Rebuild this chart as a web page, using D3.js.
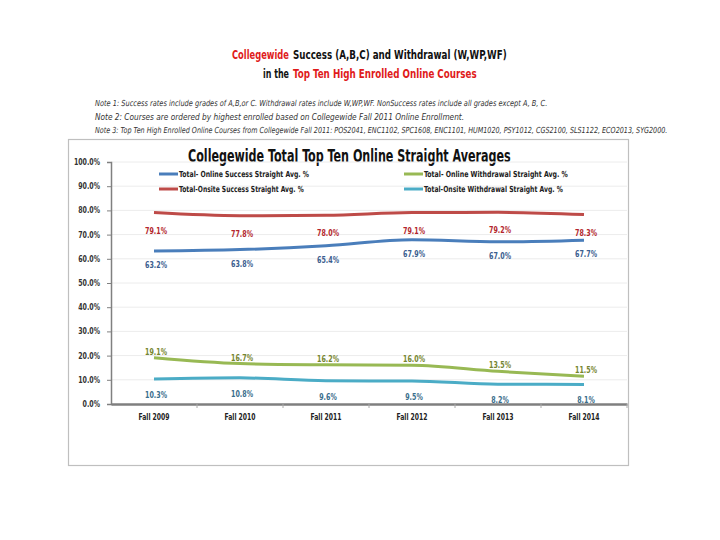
<!DOCTYPE html>
<html><head><meta charset="utf-8">
<script src="https://cdn.jsdelivr.net/npm/d3@7"></script>
<style>
body{margin:0;background:#fff;}
svg{display:block;}
</style></head>
<body>
<svg id="c" width="720" height="540"></svg>
<script>
const categories = ["Fall 2009","Fall 2010","Fall 2011","Fall 2012","Fall 2013","Fall 2014"];
const onlineSuccess = [63.2, 63.8, 65.4, 67.9, 67.0, 67.7];
const onsiteSuccess = [79.1, 77.8, 78.0, 79.1, 79.2, 78.3];
const onlineWithdrawal = [19.1, 16.7, 16.2, 16.0, 13.5, 11.5];
const onsiteWithdrawal = [10.3, 10.8, 9.6, 9.5, 8.2, 8.1];
const yTicks = [0,10,20,30,40,50,60,70,80,90,100];
const seriesNames = ["Total- Online Success Straight Avg. %","Total-Onsite Success Straight Avg. %","Total- Online Withdrawal Straight Avg. %","Total-Onsite Withdrawal Straight Avg. %"];

const series = [
  {name: seriesNames[0], values: onlineSuccess, color:"#4a7ebb", label:"#3b5e8f", dy:17},
  {name: seriesNames[1], values: onsiteSuccess, color:"#be4b48", label:"#b3262c", dy:21},
  {name: seriesNames[2], values: onlineWithdrawal, color:"#98b954", label:"#76852f", dy:-3},
  {name: seriesNames[3], values: onsiteWithdrawal, color:"#4bacc6", label:"#3a6e8c", dy:19}
];

const svg = d3.select("#c");
const font = "'DejaVu Sans Condensed','Liberation Sans',sans-serif";

// draw a text at its natural size, then squeeze horizontally to width w
function squeezed(parent, str, x, y, w, opts){
  const t = parent.append("text").attr("x",0).attr("y",0)
    .attr("font-family",font).attr("font-size",opts.size)
    .attr("font-weight",opts.weight||"normal").attr("font-style",opts.style||"normal")
    .attr("fill",opts.fill||"#111").attr("text-anchor",opts.anchor||"start").text(str);
  const nat = t.node().getComputedTextLength();
  const sx = nat>0 ? w/nat : 1;
  t.attr("transform",`translate(${x},${y}) scale(${sx},1)`);
  return t;
}

// Header (pieces)
const headerParts = [
  {t:"Collegewide", x:232, y:59, w:57, c:"#e01b1b"},
  {t:"Success (A,B,C) and Withdrawal (W,WP,WF)", x:293, y:59, w:214, c:"#111"},
  {t:"in the", x:263, y:78, w:26, c:"#111"},
  {t:"Top Ten High Enrolled Online Courses", x:293, y:78, w:184, c:"#e01b1b"}
];
headerParts.forEach(p=>squeezed(svg, p.t, p.x, p.y, p.w, {size:12.5, weight:"bold", fill:p.c}));

const notes = [
  "Note 1: Success rates include grades of A,B,or C. Withdrawal rates include W,WP,WF. NonSuccess rates include all grades except A, B, C.",
  "Note 2: Courses are ordered by highest enrolled based on Collegewide Fall 2011 Online Enrollment.",
  "Note 3: Top Ten High Enrolled Online Courses from Collegewide Fall 2011: POS2041, ENC1102, SPC1608, ENC1101, HUM1020, PSY1012, CGS2100, SLS1122, ECO2013, SYG2000."
];
const noteW = [453, 369, 573];
notes.forEach((n,i)=>squeezed(svg, n, 95, 106+i*13.5, noteW[i], {size:8.3, style:"italic", fill:"#333"}));

// Frame
svg.append("rect").attr("x",68.5).attr("y",139.5).attr("width",560).attr("height",326)
  .attr("fill","#fff").attr("stroke","#bfbfbf").attr("stroke-width",1.2);

squeezed(svg, "Collegewide Total Top Ten Online Straight Averages", 188, 162, 323, {size:17, weight:"bold", fill:"#111"});

const x = d3.scaleBand().domain(categories).range([111,627]);
const y = d3.scaleLinear().domain([0,100]).range([404,162]);
const cx = d => x(d) + x.bandwidth()/2;

// gridlines
svg.append("g").selectAll("line").data(yTicks.filter(t=>t>0)).enter().append("line")
  .attr("x1",111).attr("x2",627).attr("y1",d=>y(d)).attr("y2",d=>y(d))
  .attr("stroke","#ececec").attr("stroke-width",1);

// y axis
const pct = d=>d3.format(".1f")(d)+"%";
const ya = svg.append("g").attr("transform","translate(111,0)")
  .call(d3.axisLeft(y).tickValues(yTicks).tickSize(4).tickFormat(pct));
ya.select(".domain").attr("stroke","#808080").attr("stroke-width",1.5);
ya.selectAll(".tick line").attr("stroke","#808080");
ya.selectAll("text").attr("font-family",font).attr("font-weight","bold").attr("font-size",8).attr("fill","#333").attr("x",-11)
  .attr("textLength",d=>pct(d).length*4.35).attr("lengthAdjust","spacingAndGlyphs");

// x axis
const xa = svg.append("g").attr("transform","translate(0,404)")
  .call(d3.axisBottom(x).tickSize(0).tickPadding(10));
xa.select(".domain").attr("stroke","#7f7f7f").attr("stroke-width",2.5);
xa.selectAll("text").attr("font-family",font).attr("font-weight","bold").attr("font-size",9).attr("fill","#222")
  .attr("textLength",31).attr("lengthAdjust","spacingAndGlyphs");
// category boundary tick marks
svg.append("g").selectAll("line").data(categories).enter().append("line")
  .attr("x1",d=>x(d)+x.bandwidth()).attr("x2",d=>x(d)+x.bandwidth())
  .attr("y1",404).attr("y2",408).attr("stroke","#aaa");

// lines
const line = d3.line().x((d,i)=>cx(categories[i])).y(d=>y(d)).curve(d3.curveMonotoneX);
series.forEach(s=>{
  svg.append("path").datum(s.values).attr("d",line).attr("fill","none")
    .attr("stroke",s.color).attr("stroke-width",3).attr("stroke-linecap","butt");
  svg.append("g").selectAll("text").data(s.values).enter().append("text")
    .attr("x",(d,i)=>cx(categories[i])+2).attr("y",d=>y(d)+s.dy)
    .attr("text-anchor","middle").attr("font-family",font).attr("font-weight","bold")
    .attr("font-size",8.5).attr("fill",s.label).text(pct)
    .attr("textLength",d=>pct(d).length*4.4).attr("lengthAdjust","spacingAndGlyphs");
});

// legend
const leg = [
  {s:series[0], x:159, y:174, w:130},
  {s:series[2], x:404, y:174, w:144},
  {s:series[1], x:159, y:189, w:125},
  {s:series[3], x:404, y:189, w:139}
];
leg.forEach(l=>{
  svg.append("line").attr("x1",l.x).attr("x2",l.x+19).attr("y1",l.y).attr("y2",l.y)
    .attr("stroke",l.s.color).attr("stroke-width",3);
  squeezed(svg, l.s.name, l.x+20, l.y+3, l.w, {size:8.3, weight:"bold", fill:"#222"});
});
</script>
</body></html>
